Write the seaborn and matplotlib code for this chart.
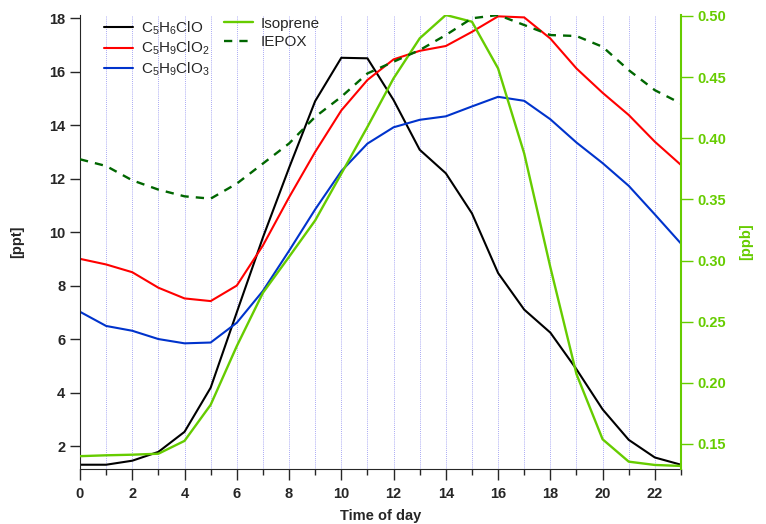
"""Diurnal profiles of chlorinated products, isoprene and IEPOX."""

import matplotlib

matplotlib.use("Agg")
import matplotlib.pyplot as plt
import pandas as pd
import seaborn as sns
from matplotlib.ticker import FormatStrFormatter, MultipleLocator

# Data (hour of day)
hours = list(range(24))
c5h6clo = [1.3, 1.3, 1.45, 1.78, 2.53, 4.18, 7.0, 9.8, 12.4, 14.9, 16.52, 16.5,
           14.94, 13.08, 12.2, 10.7, 8.47, 7.1, 6.24, 4.87, 3.37, 2.23, 1.57, 1.3]
c5h9clo2 = [9.0, 8.79, 8.5, 7.92, 7.52, 7.42, 8.0, 9.5, 11.3, 13.0, 14.55, 15.69,
            16.46, 16.78, 16.96, 17.49, 18.07, 18.03, 17.24, 16.12, 15.21, 14.38, 13.38, 12.51]
c5h9clo3 = [7.02, 6.49, 6.31, 6.0, 5.84, 5.87, 6.61, 7.8, 9.3, 10.85, 12.28, 13.31,
            13.92, 14.2, 14.33, 14.7, 15.06, 14.91, 14.22, 13.35, 12.58, 11.73, 10.66, 9.57]
isoprene = [0.140, 0.1407, 0.1412, 0.142, 0.1525, 0.182, 0.230, 0.2736, 0.303, 0.3328,
            0.371, 0.4093, 0.449, 0.4817, 0.5008, 0.4953, 0.4571, 0.3875, 0.2945, 0.2071,
            0.1538, 0.1355, 0.1328, 0.132]
iepox = [0.3828, 0.3773, 0.3656, 0.358, 0.3525, 0.3506, 0.3629, 0.3793, 0.3957, 0.4175,
         0.4339, 0.453, 0.4626, 0.4721, 0.4844, 0.4981, 0.5008, 0.4926, 0.4844, 0.4836,
         0.4748, 0.4557, 0.4393, 0.4284]

left_series = [
    (c5h6clo, r"C$_5$H$_6$ClO", "black"),
    (c5h9clo2, r"C$_5$H$_9$ClO$_2$", "#ff0000"),
    (c5h9clo3, r"C$_5$H$_9$ClO$_3$", "#0033cc"),
]
GREEN = "#66cc00"
DARK_GREEN = "#006600"

sns.set_style("ticks")
plt.rcParams["font.family"] = ["Liberation Sans", "DejaVu Sans"]
plt.rcParams["mathtext.fontset"] = "custom"
plt.rcParams["mathtext.rm"] = "Liberation Sans"
plt.rcParams["mathtext.it"] = "Liberation Sans:italic"
plt.rcParams["mathtext.bf"] = "Liberation Sans:bold"

fig = plt.figure(figsize=(7.66, 5.24), dpi=100)
ax = fig.add_axes([80 / 766, 55 / 524, 601 / 766, 454 / 524])
ax2 = ax.twinx()

for vals, label, color in left_series:
    df = pd.DataFrame({"hour": hours, "value": vals})
    sns.lineplot(data=df, x="hour", y="value", ax=ax, color=color, lw=1.5, label=label)

df_iso = pd.DataFrame({"hour": hours, "value": isoprene})
df_iep = pd.DataFrame({"hour": hours, "value": iepox})
sns.lineplot(data=df_iso, x="hour", y="value", ax=ax2, color=GREEN, lw=1.7, label="Isoprene")
sns.lineplot(data=df_iep, x="hour", y="value", ax=ax2, color=DARK_GREEN, lw=1.7,
             label="IEPOX", dashes=False, linestyle=(0, (3.5, 3)))

# axes ranges and ticks
ax.set_xlim(0, 23)
ax.set_ylim(1.14, 18.12)
ax2.set_ylim(0.1295, 0.5008)
ax.xaxis.set_major_locator(MultipleLocator(2))
ax.xaxis.set_minor_locator(MultipleLocator(1))
ax.yaxis.set_major_locator(MultipleLocator(2))
ax2.yaxis.set_major_locator(MultipleLocator(0.05))
ax2.yaxis.set_major_formatter(FormatStrFormatter("%.2f"))

ax.grid(which="both", axis="x", color="#8c8cf0", lw=0.6, ls=(0, (1, 1.5)))
ax.grid(False, axis="y")

ax.tick_params(axis="x", which="major", length=8, width=1, direction="out", labelsize=10.5,
               pad=5)
ax.tick_params(axis="x", which="minor", length=4, width=1, direction="out")
ax.tick_params(axis="y", length=7, width=1, direction="out", labelsize=10.5)
ax2.tick_params(axis="y", length=8.5, width=1, direction="out", labelsize=10.5,
                colors=GREEN, labelcolor=GREEN)
for lab in ax.get_xticklabels() + ax.get_yticklabels() + ax2.get_yticklabels():
    lab.set_fontweight("bold")

ax.spines["top"].set_visible(False)
ax2.spines["top"].set_visible(False)
ax.spines["right"].set_visible(False)
ax2.spines["left"].set_visible(False)
ax2.spines["right"].set_color(GREEN)
ax2.spines["right"].set_linewidth(1.5)
ax2.spines["bottom"].set_visible(False)

ax.set_xlabel("Time of day", fontsize=10.5, fontweight="bold", labelpad=6)
ax.set_ylabel("[ppt]", fontsize=10.5, fontweight="bold", labelpad=18)
ax2.set_ylabel("[ppb]", fontsize=10.5, fontweight="bold", color=GREEN,
               rotation=90, labelpad=9)

# legends
ax.legend(loc="upper left", bbox_to_anchor=(0.04, 0.99), frameon=False, fontsize=11,
          handlelength=1.9, handletextpad=0.5, labelspacing=0.2, borderpad=0,
          borderaxespad=0)
ax2.legend(loc="upper left", bbox_to_anchor=(0.24, 0.996), frameon=False, fontsize=11,
           handlelength=1.9, handletextpad=0.5, labelspacing=0.3, borderpad=0,
           borderaxespad=0)

fig.savefig("out.png", dpi=100)
